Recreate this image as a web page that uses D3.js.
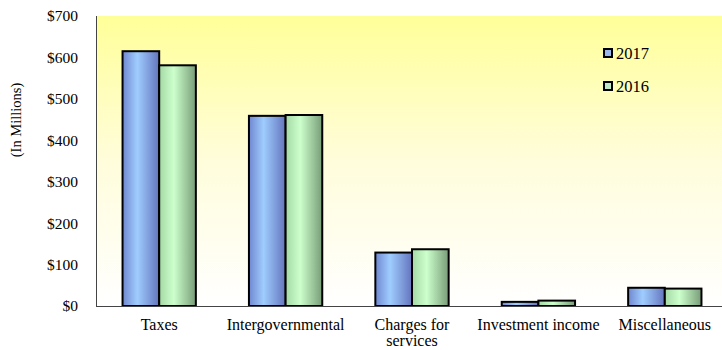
<!DOCTYPE html>
<html>
<head>
<meta charset="utf-8">
<script src="https://cdn.jsdelivr.net/npm/d3@7"></script>
<style>
  html, body { margin: 0; padding: 0; background: #fff; }
  svg text { font-family: "Liberation Serif", "Times New Roman", "DejaVu Serif", serif !important; }
</style>
</head>
<body>
<svg id="chart" width="722" height="350"></svg>
<script>
// Revenue sources, in millions of dollars
const categories = ["Taxes", "Intergovernmental", "Charges for services", "Investment income", "Miscellaneous"];
const series = ["2017", "2016"];
const values2017 = [615, 459, 129, 10, 44];
const values2016 = [581, 461, 137, 13, 42];
const yTicks = [0, 100, 200, 300, 400, 500, 600, 700];

const svg = d3.select("#chart");
const W = 722, H = 350;
const m = { left: 96, top: 16, right: -6, bottom: 44 };
const x0 = m.left, x1 = W - m.right, y0 = m.top, y1 = H - m.bottom;

const x = d3.scaleBand().domain(categories).range([x0, x1]).paddingInner(0.42).paddingOuter(0.21);
const xs = d3.scaleBand().domain(series).range([0, x.bandwidth()]);
const y = d3.scaleLinear().domain([0, 700]).range([y1, y0]);

const defs = svg.append("defs");
const bg = defs.append("linearGradient").attr("id", "bg").attr("x1", 0).attr("y1", 0).attr("x2", 0).attr("y2", 1);
bg.append("stop").attr("offset", "0%").attr("stop-color", "#ffff99");
bg.append("stop").attr("offset", "50%").attr("stop-color", "#fffddb");
bg.append("stop").attr("offset", "100%").attr("stop-color", "#ffffff");

function barGrad(id, edgeL, mid, edgeR) {
  const g = defs.append("linearGradient").attr("id", id).attr("x1", 0).attr("y1", 0).attr("x2", 1).attr("y2", 0);
  g.append("stop").attr("offset", "0%").attr("stop-color", edgeL);
  g.append("stop").attr("offset", "40%").attr("stop-color", mid);
  g.append("stop").attr("offset", "100%").attr("stop-color", edgeR);
}
barGrad("g2017", "#7087d0", "#9fcdff", "#6474bd");
barGrad("g2016", "#a4d8a4", "#ccffcc", "#789c78");
const fills = { "2017": "url(#g2017)", "2016": "url(#g2016)" };
const legendFills = { "2017": "#99b8ee", "2016": "#bfe8c8" };

// plot background
svg.append("rect").attr("x", x0).attr("y", y0).attr("width", x1 - x0).attr("height", y1 - y0)
  .attr("fill", "url(#bg)");

// y axis line
svg.append("line").attr("x1", x0 + 0.5).attr("x2", x0 + 0.5).attr("y1", y0).attr("y2", y1)
  .attr("stroke", "#444").attr("stroke-width", 1);

// y tick labels
const yAxis = d3.axisLeft(y).tickValues(yTicks).tickSize(0).tickPadding(18).tickFormat(d => "$" + d);
const ya = svg.append("g").attr("transform", `translate(${x0},0)`).call(yAxis);
ya.attr("font-family", null);
ya.select(".domain").remove();
ya.selectAll("text").attr("font-size", 15.5).attr("fill", "#000");

// bars
const rows = categories.map((c, i) => ({ c, v: { "2017": values2017[i], "2016": values2016[i] } }));
const groups = svg.append("g").selectAll("g").data(rows).join("g")
  .attr("transform", d => `translate(${x(d.c)},0)`);
groups.selectAll("rect").data(d => series.map(s => ({ s, v: d.v[s] }))).join("rect")
  .attr("x", d => xs(d.s))
  .attr("y", d => y(d.v))
  .attr("width", xs.bandwidth())
  .attr("height", d => y(0) - y(d.v))
  .attr("fill", d => fills[d.s])
  .attr("stroke", "#000").attr("stroke-width", 2);

// x axis baseline
svg.append("line").attr("x1", x0).attr("x2", W).attr("y1", y1 + 0.5).attr("y2", y1 + 0.5)
  .attr("stroke", "#444").attr("stroke-width", 1);

// category labels
const xl = svg.append("g").selectAll("text").data(categories).join("text")
  .attr("x", d => x(d) + x.bandwidth() / 2)
  .attr("y", y1 + 24)
  .attr("text-anchor", "middle")
  .attr("font-size", 16)
  .attr("fill", "#000");
xl.each(function(d) {
  const t = d3.select(this);
  const parts = d === "Charges for services" ? ["Charges for", "services"] : [d];
  parts.forEach((p, i) => t.append("tspan").attr("x", x(d) + x.bandwidth() / 2).attr("dy", i ? 16 : 0).text(p));
});

// y axis title
svg.append("text").attr("transform", "translate(21,120) rotate(-90)")
  .attr("text-anchor", "middle").attr("font-size", 14.5).attr("fill", "#000")
  .text("(In Millions)");

// legend
const lg = svg.append("g").selectAll("g").data(series).join("g")
  .attr("transform", (d, i) => `translate(604,${49 + i * 33})`);
lg.append("rect").attr("width", 8).attr("height", 8)
  .attr("fill", d => legendFills[d]).attr("stroke", "#000").attr("stroke-width", 2);
lg.append("text").attr("x", 12).attr("y", 9.5).attr("font-size", 16.5).attr("fill", "#000").text(d => d);
</script>
</body>
</html>
